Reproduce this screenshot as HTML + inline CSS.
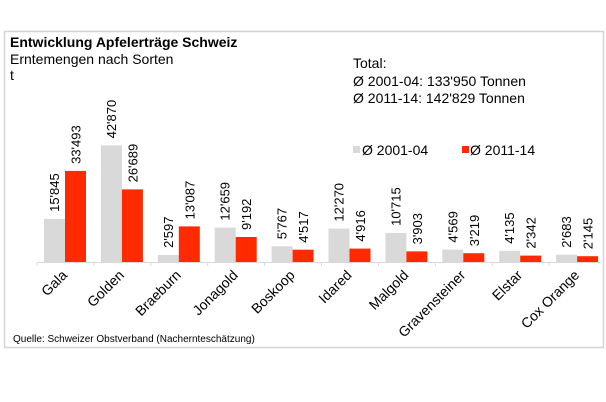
<!DOCTYPE html>
<html><head><meta charset="utf-8"><style>
html,body{margin:0;padding:0;background:#fff;}
svg{display:block;}
text{font-family:"Liberation Sans",Arial,sans-serif;fill:#000;}
</style></head><body>
<svg width="606" height="402" viewBox="0 0 606 402" xmlns="http://www.w3.org/2000/svg">
<rect x="4.5" y="31.5" width="599" height="316" fill="#fff" stroke="#d4d4d4" stroke-width="1.5"/>
<text x="10" y="47" font-size="14" font-weight="bold">Entwicklung Apfelerträge Schweiz</text>
<text x="10" y="64" font-size="14">Erntemengen nach Sorten</text>
<text x="10" y="80" font-size="14">t</text>
<text x="353" y="68" font-size="14">Total:</text>
<text x="353" y="86" font-size="14">Ø 2001-04: 133'950 Tonnen</text>
<text x="353" y="103" font-size="14">Ø 2011-14: 142'829 Tonnen</text>
<rect x="353" y="146" width="7" height="7" fill="#d9d9d9"/>
<text x="362" y="155" font-size="14">Ø 2001-04</text>
<rect x="462" y="146" width="7" height="7" fill="#ff2a00"/>
<text x="470" y="155" font-size="14">Ø 2011-14</text>
<line x1="37" y1="262.5" x2="600" y2="262.5" stroke="#d9d9d9" stroke-width="1"/>
<g fill="#d9d9d9">
<rect x="44" y="218.9" width="21" height="43.1"/>
<rect x="100.9" y="145.4" width="21" height="116.6"/>
<rect x="157.8" y="254.9" width="21" height="7.1"/>
<rect x="214.7" y="227.6" width="21" height="34.4"/>
<rect x="271.6" y="246.3" width="21" height="15.7"/>
<rect x="328.5" y="228.6" width="21" height="33.4"/>
<rect x="385.4" y="232.9" width="21" height="29.1"/>
<rect x="442.3" y="249.6" width="21" height="12.4"/>
<rect x="499.2" y="250.8" width="21" height="11.2"/>
<rect x="556.1" y="254.7" width="21" height="7.3"/>
</g>
<g fill="#ff2a00">
<rect x="65" y="170.9" width="21" height="91.1"/>
<rect x="121.9" y="189.4" width="21" height="72.6"/>
<rect x="178.8" y="226.4" width="21" height="35.6"/>
<rect x="235.7" y="237" width="21" height="25"/>
<rect x="292.6" y="249.7" width="21" height="12.3"/>
<rect x="349.5" y="248.6" width="21" height="13.4"/>
<rect x="406.4" y="251.4" width="21" height="10.6"/>
<rect x="463.3" y="253.2" width="21" height="8.8"/>
<rect x="520.2" y="255.6" width="21" height="6.4"/>
<rect x="577.1" y="256.2" width="21" height="5.8"/>
</g>
<g stroke="#d9d9d9">
<line x1="37" y1="262" x2="37" y2="266"/><line x1="93.9" y1="262" x2="93.9" y2="266"/><line x1="150.8" y1="262" x2="150.8" y2="266"/><line x1="207.7" y1="262" x2="207.7" y2="266"/><line x1="264.6" y1="262" x2="264.6" y2="266"/><line x1="321.5" y1="262" x2="321.5" y2="266"/><line x1="378.4" y1="262" x2="378.4" y2="266"/><line x1="435.3" y1="262" x2="435.3" y2="266"/><line x1="492.2" y1="262" x2="492.2" y2="266"/><line x1="549.1" y1="262" x2="549.1" y2="266"/>
</g>
<g font-size="13">
<text transform="translate(59,211.9) rotate(-90)">15'845</text>
<text transform="translate(80.5,163.9) rotate(-90)">33'493</text>
<text transform="translate(115.9,138.4) rotate(-90)">42'870</text>
<text transform="translate(137.4,182.4) rotate(-90)">26'689</text>
<text transform="translate(172.8,247.9) rotate(-90)">2'597</text>
<text transform="translate(194.3,219.4) rotate(-90)">13'087</text>
<text transform="translate(229.7,220.6) rotate(-90)">12'659</text>
<text transform="translate(251.2,230) rotate(-90)">9'192</text>
<text transform="translate(286.6,239.3) rotate(-90)">5'767</text>
<text transform="translate(308.1,242.7) rotate(-90)">4'517</text>
<text transform="translate(343.5,221.6) rotate(-90)">12'270</text>
<text transform="translate(365,241.6) rotate(-90)">4'916</text>
<text transform="translate(400.4,225.9) rotate(-90)">10'715</text>
<text transform="translate(421.9,244.4) rotate(-90)">3'903</text>
<text transform="translate(457.3,242.6) rotate(-90)">4'569</text>
<text transform="translate(478.8,246.2) rotate(-90)">3'219</text>
<text transform="translate(514.2,243.8) rotate(-90)">4'135</text>
<text transform="translate(535.7,248.6) rotate(-90)">2'342</text>
<text transform="translate(571.1,247.7) rotate(-90)">2'683</text>
<text transform="translate(592.6,249.2) rotate(-90)">2'145</text>
</g>
<g font-size="14" text-anchor="end">
<text transform="translate(68,276) rotate(-45)">Gala</text>
<text transform="translate(124.9,276) rotate(-45)">Golden</text>
<text transform="translate(181.8,276) rotate(-45)">Braeburn</text>
<text transform="translate(238.7,276) rotate(-45)">Jonagold</text>
<text transform="translate(295.6,276) rotate(-45)">Boskoop</text>
<text transform="translate(352.5,276) rotate(-45)">Idared</text>
<text transform="translate(409.4,276) rotate(-45)">Malgold</text>
<text transform="translate(466.3,276) rotate(-45)">Gravensteiner</text>
<text transform="translate(523.2,276) rotate(-45)">Elstar</text>
<text transform="translate(580.1,276) rotate(-45)">Cox Orange</text>
</g>
<text x="13" y="342" font-size="10">Quelle: Schweizer Obstverband (Nachernteschätzung)</text>
</svg>
</body></html>
